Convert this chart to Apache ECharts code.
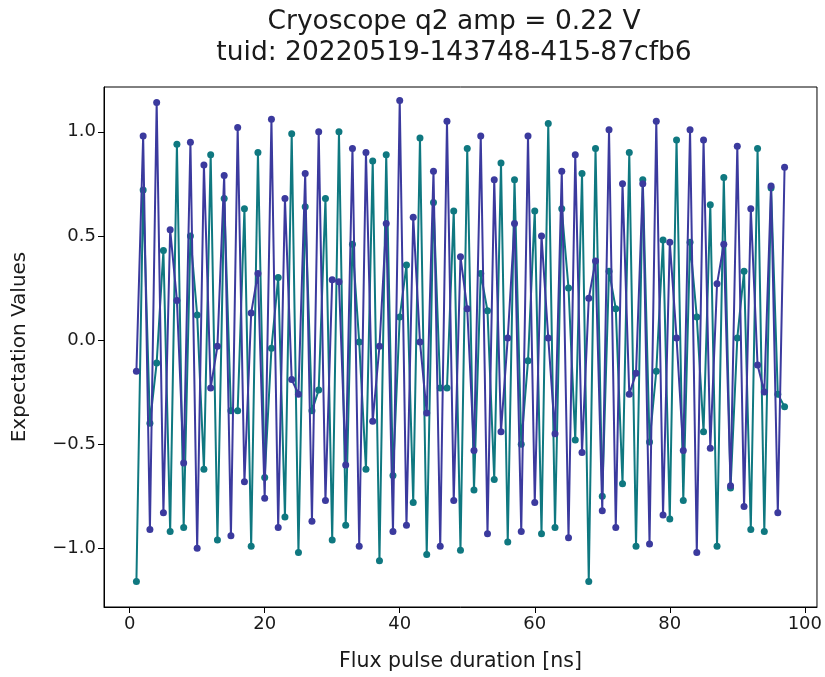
<!DOCTYPE html>
<html>
<head>
<meta charset="utf-8">
<script src="https://cdn.jsdelivr.net/npm/echarts@6/dist/echarts.min.js"></script>
<style>
  html, body { margin: 0; padding: 0; background: #fff; }
  #chart { width: 825px; height: 677px; }
</style>
</head>
<body>
<div id="chart"></div>
<script>
// Flux pulse durations (ns)
const durations = [];
for (let i = 1; i <= 97; i++) durations.push(i);

// Teal series
const tealValues = [
  -1.16, 0.72, -0.40, -0.11, 0.43, -0.92, 0.94, -0.90, 0.50, 0.12,
  -0.62, 0.89, -0.96, 0.68, -0.34, -0.34, 0.63, -0.99, 0.90, -0.66,
  -0.04, 0.30, -0.85, 0.99, -1.02, 0.64, -0.34, -0.24, 0.68, -0.96,
  1.00, -0.89, 0.46, -0.01, -0.62, 0.86, -1.06, 0.89, -0.65, 0.11,
  0.36, -0.78, 0.97, -1.03, 0.66, -0.23, -0.23, 0.62, -1.01, 0.92,
  -0.72, 0.32, 0.14, -0.67, 0.85, -0.97, 0.77, -0.50, -0.10, 0.62,
  -0.93, 1.04, -0.90, 0.63, 0.25, -0.48, 0.80, -1.16, 0.92, -0.75,
  0.33, 0.15, -0.69, 0.90, -0.99, 0.77, -0.49, -0.15, 0.48, -0.86,
  0.96, -0.77, 0.47, 0.11, -0.44, 0.65, -0.99, 0.78, -0.71, 0.01,
  0.33, -0.91, 0.92, -0.92, 0.73, -0.26, -0.32
];

// Indigo series
const blueValues = [
  -0.15, 0.98, -0.91, 1.14, -0.83, 0.53, 0.19, -0.59, 0.95, -1.00,
  0.84, -0.23, -0.03, 0.79, -0.94, 1.02, -0.68, 0.13, 0.32, -0.76,
  1.06, -0.90, 0.68, -0.19, -0.26, 0.80, -0.87, 1.00, -0.77, 0.29,
  0.28, -0.60, 0.92, -0.99, 0.90, -0.39, -0.03, 0.56, -0.92, 1.15,
  -0.89, 0.59, -0.01, -0.35, 0.81, -0.99, 1.05, -0.77, 0.40, 0.15,
  -0.53, 0.98, -0.93, 0.77, -0.44, 0.01, 0.56, -0.92, 0.98, -0.78,
  0.50, 0.01, -0.45, 0.81, -0.95, 0.89, -0.54, 0.20, 0.38, -0.82,
  1.01, -0.90, 0.75, -0.26, -0.16, 0.75, -0.98, 1.05, -0.84, 0.47,
  0.01, -0.53, 1.01, -1.02, 0.96, -0.52, 0.27, 0.46, -0.70, 0.93,
  -0.80, 0.63, -0.12, -0.25, 0.74, -0.83, 0.83
];

// Tick values and labels
const xTickValues = [0, 20, 40, 60, 80, 100];
const xTickLabels = ['0', '20', '40', '60', '80', '100'];
const yTickValues = [-1.0, -0.5, 0.0, 0.5, 1.0];
const yTickLabels = ['\u22121.0', '\u22120.5', '0.0', '0.5', '1.0'];

const titleLines = ['Cryoscope q2 amp = 0.22 V', 'tuid: 20220519-143748-415-87cfb6'];
const xAxisTitle = 'Flux pulse duration [ns]';
const yAxisTitle = 'Expectation Values';

const FONT = '"DejaVu Sans", sans-serif';
const tealColor = '#0f7880';
const blueColor = '#3b3a9e';

function pairs(xs, ys) { return xs.map((x, i) => [x, ys[i]]); }
function labelFor(values, labels) {
  return function (v) {
    for (let i = 0; i < values.length; i++) {
      if (Math.abs(values[i] - v) < 1e-9) return labels[i];
    }
    return '';
  };
}

const chart = echarts.init(document.getElementById('chart'), null, { renderer: 'canvas' });
chart.setOption({
  animation: false,
  backgroundColor: '#ffffff',
  title: {
    text: titleLines.join('\n'),
    left: 449,
    textAlign: 'center',
    top: 2,
    textStyle: { fontFamily: FONT, fontSize: 26.5, fontWeight: 'normal', color: '#1a1a1a', lineHeight: 31 }
  },
  grid: {
    left: 104, right: 1, top: 87, bottom: 67,
    show: true, borderColor: '#000', borderWidth: 1, backgroundColor: 'transparent'
  },
  xAxis: {
    type: 'value',
    min: -3.8, max: 101.8,
    name: xAxisTitle,
    nameLocation: 'middle',
    nameGap: 44,
    nameTextStyle: { fontFamily: FONT, fontSize: 20.5, color: '#1a1a1a' },
    axisLine: { show: true, onZero: false, lineStyle: { color: '#000', width: 1 } },
    axisTick: { show: true, length: 6, customValues: xTickValues, lineStyle: { color: '#000' } },
    axisLabel: { customValues: xTickValues, formatter: labelFor(xTickValues, xTickLabels),
      fontFamily: FONT, fontSize: 18, color: '#1a1a1a', margin: 8 },
    splitLine: { show: false }
  },
  yAxis: {
    type: 'value',
    min: -1.282, max: 1.215,
    name: yAxisTitle,
    nameLocation: 'middle',
    nameGap: 74,
    nameRotate: 90,
    nameTextStyle: { fontFamily: FONT, fontSize: 20, color: '#1a1a1a' },
    axisLine: { show: true, onZero: false, lineStyle: { color: '#000', width: 1 } },
    axisTick: { show: true, length: 6, customValues: yTickValues, lineStyle: { color: '#000' } },
    axisLabel: { customValues: yTickValues, formatter: labelFor(yTickValues, yTickLabels),
      fontFamily: FONT, fontSize: 18, color: '#1a1a1a', margin: 8 },
    splitLine: { show: false }
  },
  series: [
    {
      type: 'line',
      data: pairs(durations, tealValues),
      symbol: 'circle', symbolSize: 7,
      lineStyle: { color: tealColor, width: 2 },
      itemStyle: { color: tealColor },
      z: 2
    },
    {
      type: 'line',
      data: pairs(durations, blueValues),
      symbol: 'circle', symbolSize: 7,
      lineStyle: { color: blueColor, width: 2 },
      itemStyle: { color: blueColor },
      z: 3
    }
  ]
});
</script>
</body>
</html>
